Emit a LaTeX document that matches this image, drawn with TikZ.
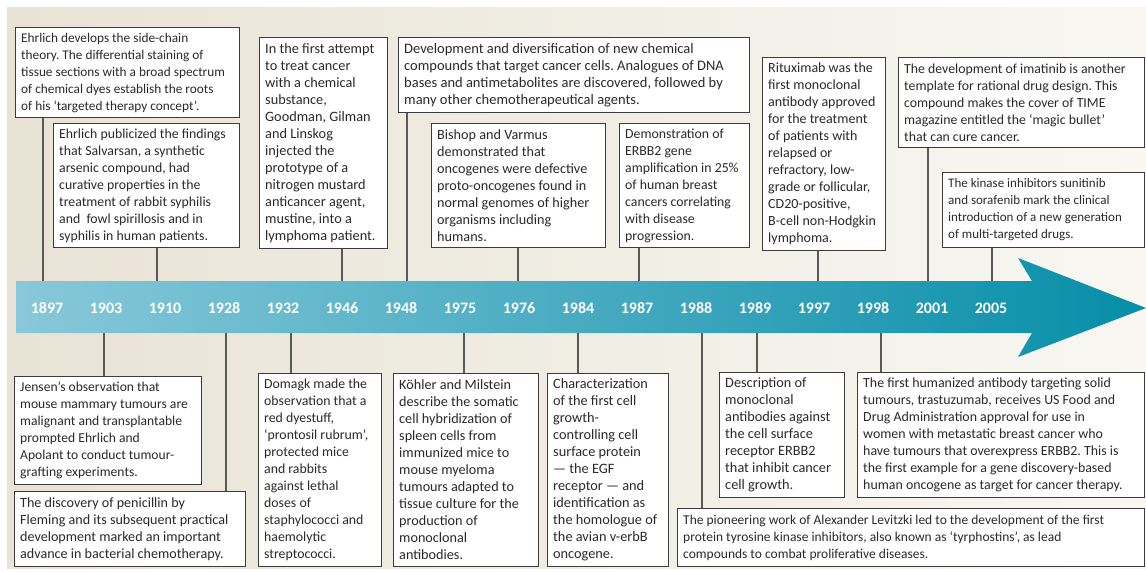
\documentclass[tikz,border=0pt]{standalone}
\usepackage{fontspec}
\setmainfont{Carlito}
\frenchspacing
\definecolor{paperL}{HTML}{E8E3D5}
\definecolor{paperR}{HTML}{F8F7F2}
\definecolor{barL}{HTML}{88C8DA}
\definecolor{barM}{HTML}{19A8C3}
\definecolor{barR}{HTML}{078EA8}
\definecolor{edge}{HTML}{3C3C3C}
\definecolor{ink}{HTML}{2A2A2A}
% one event: name, left, top, width, height, font size, text
\newcommand\evt[7]{%
  \node[frame, minimum width=#4pt, minimum height=#5pt] (b#1) at (#2,#3) {};
  \node[etext, fs=#6] (l#1) at ([xshift=6pt]b#1.west) {#7};}
\begin{document}
\begin{tikzpicture}[x=1pt,y=-1pt,
  frame/.style={draw=edge, line width=1.1pt, fill=white, anchor=north west, inner sep=0pt},
  etext/.style={anchor=west, inner sep=0pt, align=left, text=ink},
  fs/.style={font=\fontsize{#1}{17}\selectfont},
  conn/.style={draw=edge!85, line width=1.1pt},
  year/.style={text=white, font=\fontsize{16}{16}\selectfont\bfseries}]

% page and paper
\useasboundingbox (0,0) rectangle (1146,571);
\fill[white] (0,0) rectangle (1146,571);
\shade[left color=paperL, right color=paperR] (7,7) rectangle (1146,568);

% attachment points on the arrow edges
\foreach \n/\x in {1897/43,1910/157,1946/342,1948/407,1976/518,1987/639,1997/818,2001/928,2005/992}
  \coordinate (t\n) at (\x,281);
\foreach \n/\x in {1903/104,1928/226,1932/291,1975/464,1984/578,1988/702,1989/757,1998/881}
  \coordinate (d\n) at (\x,333);

% events above the timeline
\evt{1897}{15}{27}{224}{90}{13.3}
  {Ehrlich develops the side-chain\\theory. The differential staining of\\tissue sections with a broad spectrum\\of chemical dyes establish the roots\\of his ‘targeted therapy concept’.}
\evt{1910}{53}{123}{186}{124}{13.8}
  {Ehrlich publicized the findings\\that Salvarsan, a synthetic\\arsenic compound, had\\curative properties in the\\treatment of rabbit syphilis\\and\ \ fowl spirillosis and in\\syphilis in human patients.}
\evt{1946}{259}{37}{128}{211}{14.3}
  {In the first attempt\\to treat cancer\\with a chemical\\substance,\\Goodman, Gilman\\and Linskog\\injected the\\prototype of a\\nitrogen mustard\\anticancer agent,\\mustine, into a\\lymphoma patient.}
\evt{1948}{398}{37}{351}{75}{14.5}
  {Development and diversification of new chemical\\compounds that target cancer cells. Analogues of DNA\\bases and antimetabolites are discovered, followed by\\many other chemotherapeutical agents.}
\evt{1976}{431}{123}{174}{124}{14.2}
  {Bishop and Varmus\\demonstrated that\\oncogenes were defective\\proto-oncogenes found in\\normal genomes of higher\\organisms including\\humans.}
\evt{1987}{619}{123}{130}{124}{13.8}
  {Demonstration of\\ERBB2 gene\\amplification in 25\%\\of human breast\\cancers correlating\\with disease\\progression.}
\evt{1997}{762}{57}{123}{193}{14.0}
  {Rituximab was the\\first monoclonal\\antibody approved\\for the treatment\\of patients with\\relapsed or\\refractory, low-\\grade or follicular,\\CD20-positive,\\B-cell non-Hodgkin\\lymphoma.}
\evt{2001}{898}{57}{246}{90}{13.8}
  {The development of imatinib is another\\template for rational drug design. This\\compound makes the cover of TIME\\magazine entitled the ‘magic bullet’\\that can cure cancer.}
\evt{2005}{942}{172}{202}{75}{13.0}
  {The kinase inhibitors sunitinib\\and sorafenib mark the clinical\\introduction of a new generation\\of multi-targeted drugs.}

% events below the timeline
\evt{1903}{14}{376}{187}{108}{13.6}
  {Jensen’s observation that\\mouse mammary tumours are\\malignant and transplantable\\prompted Ehrlich and\\Apolant to conduct tumour-\\grafting experiments.}
\evt{1928}{14}{491}{231}{75}{14.1}
  {The discovery of penicillin by\\Fleming and its subsequent practical\\development marked an important\\advance in bacterial chemotherapy.}
\evt{1932}{258}{373}{123}{193}{13.8}
  {Domagk made the\\observation that a\\red dyestuff,\\‘prontosil rubrum’,\\protected mice\\and rabbits\\against lethal\\doses of\\staphylococci and\\haemolytic\\streptococci.}
\evt{1975}{393}{373}{145}{193}{14.2}
  {Köhler and Milstein\\describe the somatic\\cell hybridization of\\spleen cells from\\immunized mice to\\mouse myeloma\\tumours adapted to\\tissue culture for the\\production of\\monoclonal\\antibodies.}
\evt{1984}{547}{373}{121}{193}{14.3}
  {Characterization\\of the first cell\\growth-\\controlling cell\\surface protein\\— the EGF\\receptor — and\\identification as\\the homologue of\\the avian v-erbB\\oncogene.}
\evt{1988}{677}{508}{467}{58}{13.5}
  {The pioneering work of Alexander Levitzki led to the development of the first\\protein tyrosine kinase inhibitors, also known as ‘tyrphostins’, as lead\\compounds to combat proliferative diseases.}
\evt{1989}{719}{372}{125}{125}{14.3}
  {Description of\\monoclonal\\antibodies against\\the cell surface\\receptor ERBB2\\that inhibit cancer\\cell growth.}
\evt{1998}{857}{372}{287}{125}{13.9}
  {The first humanized antibody targeting solid\\tumours, trastuzumab, receives US Food and\\Drug Administration approval for use in\\women with metastatic breast cancer who\\have tumours that overexpress ERBB2. This is\\the first example for a gene discovery-based\\human oncogene as target for cancer therapy.}

% connectors from the events to the arrow
\foreach \n in {1897,1910,1946,1948,1976,1987,1997,2001,2005}
  \draw[conn] (b\n.south -| t\n) -- (t\n);
\foreach \n in {1903,1928,1932,1975,1984,1988,1989,1998}
  \draw[conn] (b\n.north -| d\n) -- (d\n);

% the timeline arrow
\shade[left color=barL, middle color=barM, right color=barR]
  (16,281) -- (1032,281) -- (1018,258) -- (1146,308) -- (1018,357) -- (1032,333) -- (16,333) -- cycle;

% years
\foreach \yr [count=\i from 0] in {1897,1903,1910,1928,1932,1946,1948,1975,1976,1984,1987,1988,1989,1997,1998,2001,2005}
  \node[year] (y\yr) at (47+59*\i,308) {\yr};
\end{tikzpicture}
\end{document}
